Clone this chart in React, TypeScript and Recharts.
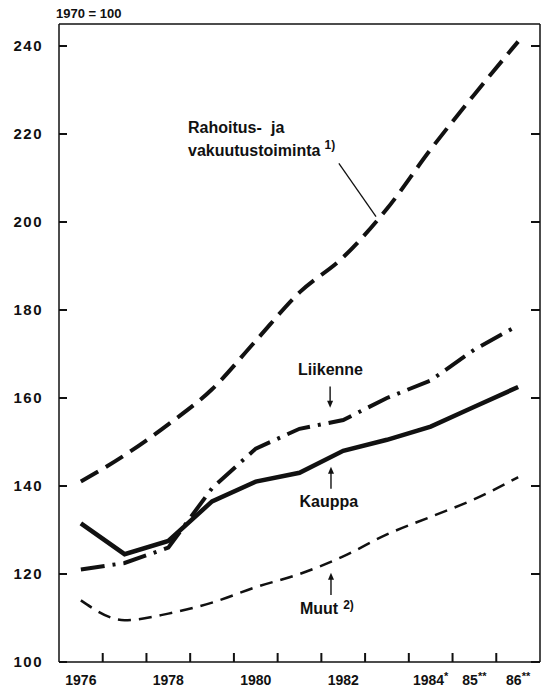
import { LineChart, Line, XAxis, YAxis, ReferenceLine, ReferenceDot } from "recharts";

const YEARS = [1976, 1977, 1978, 1979, 1980, 1981, 1982, 1983, 1984, 1985, 1986];
const RAHOITUS = [141, 147, 154, 162, 173, 184, 192, 203, 216.5, 229, 241];
const LIIKENNE = [121, 122.5, 126, 139.5, 148.5, 153, 155, 160, 164, 171, 176.5];
const KAUPPA = [131.5, 124.5, 127.5, 136.5, 141, 143, 148, 150.5, 153.5, 158, 162.5];
const MUUT = [114, 109.5, 111, 113.5, 117, 120, 124, 129, 133, 137, 142];

const Y_TICKS = [100, 120, 140, 160, 180, 200, 220, 240];
const Y_DOMAIN = [100, 245];
const X_DOMAIN = [1975.5, 1986.5];

// year label + superscript marker
const X_LABELS: Record<number, [string, string]> = {
  1976: ["1976", ""],
  1978: ["1978", ""],
  1980: ["1980", ""],
  1982: ["1982", ""],
  1984: ["1984", "*"],
  1985: ["85", "**"],
  1986: ["86", "**"],
};
// small tick marks sit between the years
const X_MARKS = [1976.5, 1977.5, 1978.5, 1979.5, 1980.5, 1981.5, 1982.5, 1983.5, 1984.5, 1985.5];
const X_TICKS = [...YEARS, ...X_MARKS].sort((a, b) => a - b);

const INK = "#111";
const FONT = '"Liberation Sans", Arial, Helvetica, sans-serif';

const data = YEARS.map((year, i) => ({
  year,
  rahoitus: RAHOITUS[i],
  liikenne: LIIKENNE[i],
  kauppa: KAUPPA[i],
  muut: MUUT[i],
}));

function YearTick(props: any) {
  const { x, y, payload } = props;
  const v = Number(payload.value);
  if (!Number.isInteger(v)) {
    return <line x1={x} x2={x} y1={y} y2={y - 9} stroke={INK} strokeWidth={2} />;
  }
  const lab = X_LABELS[v];
  if (!lab) return <g />;
  return (
    <text x={x} y={y + 23} textAnchor="middle" fill={INK} fontFamily={FONT} fontWeight="bold" fontSize={14}>
      {lab[0]}
      {lab[1] && (
        <tspan dy={-5} fontSize={11}>
          {lab[1]}
        </tspan>
      )}
    </text>
  );
}

function Arrow(p: any) {
  const { x1, y1, x2, y2 } = p;
  const d = y2 > y1 ? 1 : -1;
  return (
    <g>
      <line x1={x1} y1={y1} x2={x2} y2={y2 - d * 5} stroke={INK} strokeWidth={1.4} />
      <polygon points={`${x2},${y2} ${x2 - 3},${y2 - d * 7} ${x2 + 3},${y2 - d * 7}`} fill={INK} />
    </g>
  );
}

const txt = { fill: INK, fontFamily: FONT, fontWeight: "bold" as const, fontSize: 16 };

function RahoitusLabel(p: any) {
  const { cx, cy } = p;
  return (
    <g>
      <text x={cx} y={cy} dominantBaseline="central" {...txt}>Rahoitus-</text>
      <text x={cx + 83} y={cy} dominantBaseline="central" {...txt}>ja</text>
      <text x={cx} y={cy + 23} dominantBaseline="central" {...txt}>
        vakuutustoiminta
        <tspan dx={4} dy={-5} fontSize={12}>1)</tspan>
      </text>
    </g>
  );
}

function CenterLabel(text: string) {
  return (p: any) => (
    <text x={p.cx} y={p.cy} textAnchor="middle" dominantBaseline="central" {...txt}>
      {text}
    </text>
  );
}

function MuutLabel(p: any) {
  return (
    <text x={p.cx} y={p.cy} dominantBaseline="central" {...txt}>
      Muut
      <tspan dx={5} dy={-4} fontSize={12}>2)</tspan>
    </text>
  );
}

const noLabel = () => <g />;

export default function App() {
  return (
    <div style={{ position: "absolute", left: 0, top: 0, width: 549, height: 688, background: "#fff" }}>
      <div
        style={{
          position: "absolute",
          left: 56,
          top: 6,
          fontFamily: FONT,
          fontWeight: "bold",
          fontSize: 13,
          lineHeight: "16px",
          color: INK,
        }}
      >
        1970 = 100
      </div>
      <LineChart width={549} height={688} data={data} margin={{ top: 0, right: 0, bottom: 0, left: 0 }}>
        <XAxis
          dataKey="year"
          type="number"
          domain={X_DOMAIN}
          ticks={X_TICKS}
          interval={0}
          height={26}
          tickLine={false}
          tickSize={0}
          tickMargin={0}
          tick={<YearTick />}
          axisLine={{ stroke: INK, strokeWidth: 1.5 }}
        />
        {/* top edge of the frame */}
        <XAxis
          xAxisId="top"
          orientation="top"
          dataKey="year"
          type="number"
          domain={X_DOMAIN}
          height={24}
          tick={false}
          tickLine={false}
          axisLine={{ stroke: INK, strokeWidth: 1.5 }}
        />
        <YAxis
          type="number"
          domain={Y_DOMAIN}
          ticks={Y_TICKS}
          interval={0}
          width={59}
          tickSize={-8}
          tickMargin={24}
          tickLine={{ stroke: INK, strokeWidth: 2 }}
          axisLine={{ stroke: INK, strokeWidth: 1.5 }}
          tick={{ fill: INK, fontFamily: FONT, fontWeight: "bold", fontSize: 15, letterSpacing: 1.5 }}
        />
        <YAxis
          yAxisId="r"
          orientation="right"
          type="number"
          domain={Y_DOMAIN}
          ticks={Y_TICKS}
          interval={0}
          width={9}
          tickSize={-9}
          tick={noLabel}
          tickLine={{ stroke: INK, strokeWidth: 2 }}
          axisLine={{ stroke: INK, strokeWidth: 1.5 }}
        />

        <Line xAxisId="top" type="monotone" dataKey="rahoitus" stroke={INK} strokeWidth={4} strokeDasharray="20 9" dot={false} isAnimationActive={false} />
        <Line type="linear" dataKey="liikenne" stroke={INK} strokeWidth={4} strokeDasharray="24 8 3 8" dot={false} isAnimationActive={false} />
        <Line type="linear" dataKey="kauppa" stroke={INK} strokeWidth={4.5} dot={false} isAnimationActive={false} />
        <Line yAxisId="r" type="monotone" dataKey="muut" stroke={INK} strokeWidth={2.5} strokeDasharray="13 8" dot={false} isAnimationActive={false} />

        {/* annotations */}
        <ReferenceDot x={1978.45} y={221.5} shape={RahoitusLabel} />
        <ReferenceLine segment={[{ x: 1981.9, y: 213.3 }, { x: 1982.75, y: 201.2 }]} stroke={INK} strokeWidth={1.3} />
        <ReferenceDot x={1981.71} y={166.4} shape={CenterLabel("Liikenne")} />
        <ReferenceLine segment={[{ x: 1981.7, y: 162.6 }, { x: 1981.7, y: 157.8 }]} shape={Arrow} />
        <ReferenceDot x={1981.67} y={136.4} shape={CenterLabel("Kauppa")} />
        <ReferenceLine segment={[{ x: 1981.72, y: 139.4 }, { x: 1981.72, y: 144.4 }]} shape={Arrow} />
        <ReferenceDot x={1981.01} y={112.1} shape={MuutLabel} />
        <ReferenceLine segment={[{ x: 1981.72, y: 115.2 }, { x: 1981.72, y: 120.3 }]} shape={Arrow} />
      </LineChart>
    </div>
  );
}
